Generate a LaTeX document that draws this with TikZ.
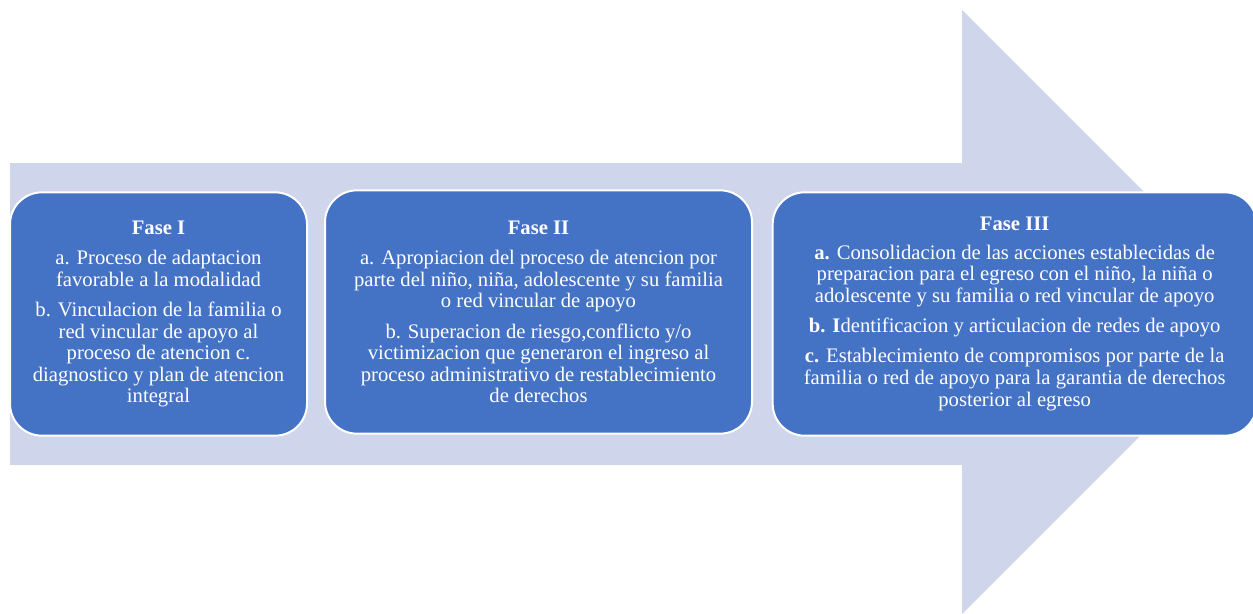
\documentclass[tikz,border=0pt]{standalone}
\usepackage{fontspec}
\setmainfont{Liberation Serif}
\usepackage{xcolor}
\usetikzlibrary{positioning}
\definecolor{arrowfill}{HTML}{CFD5EA}
\definecolor{phasefill}{HTML}{4472C4}
\tikzset{
  phase/.style={
    draw=white,
    line width=1.5pt,
    rounded corners=24pt,
    fill=phasefill,
    text=white,
    align=center,
    font=\fontsize{15.5}{16.2}\selectfont,
    minimum height=182.5pt,
    inner sep=0pt
  }
}

\begin{document}
\begin{tikzpicture}[x=0.75pt,y=-0.75pt,node distance=12pt]
  \useasboundingbox (0,0) rectangle (1253,614);
  \clip (0,0) rectangle (1253,614);
  % big arrow behind the phases
  \fill[arrowfill] (10,163) -- (962,163) -- (962,10) -- (1264,312)
    -- (962,614) -- (962,465) -- (10,465) -- cycle;

  \node[phase, minimum width=222.75pt] (fase1) at (158.5,314) {\textbf{Fase I}\\[6.5pt]a. Proceso de adaptacion\\favorable a la modalidad\\[6.5pt]b. Vinculacion de la familia o\\red vincular de apoyo al\\proceso de atencion c.\\diagnostico y plan de atencion\\integral};
  \node[phase, minimum width=320.25pt, right=of fase1, yshift=1.5pt] (fase2) {\textbf{Fase II}\\[6.5pt]a. Apropiacion del proceso de atencion por\\parte del niño, niña, adolescente y su familia\\o red vincular de apoyo\\[6.5pt]b. Superacion de riesgo,conflicto y/o\\victimizacion que generaron el ingreso al\\proceso administrativo de restablecimiento\\de derechos};
  \node[phase, minimum width=363pt, right=14pt of fase2, yshift=-1.5pt] (fase3) {\textbf{Fase III}\\[5pt]\textbf{a.} Consolidacion de las acciones establecidas de\\preparacion para el egreso con el niño, la niña o\\adolescente y su familia o red vincular de apoyo\\[6.5pt]\textbf{b. I}dentificacion y articulacion de redes de apoyo\\[6.5pt]\textbf{c.} Establecimiento de compromisos por parte de la\\familia o red de apoyo para la garantia de derechos\\posterior al egreso};
\end{tikzpicture}
\end{document}
